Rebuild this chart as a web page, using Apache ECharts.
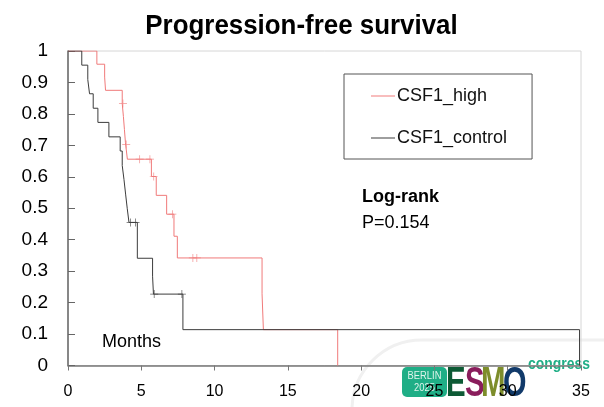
<!DOCTYPE html>
<html>
<head>
<meta charset="utf-8">
<script src="https://cdn.jsdelivr.net/npm/echarts@6/dist/echarts.min.js"></script>
<style>
html,body{margin:0;padding:0;background:#fff;}
#chart{width:604px;height:407px;}
</style>
</head>
<body>
<div id="chart"></div>
<script>
// Kaplan-Meier step points [months, survival]
var highCurve = [[0,1],[1.97,0.958],[2.5,0.917],[2.56,0.875],[3.70,0.833],[3.78,0.792],[3.85,0.750],[3.92,0.708],[4.05,0.656],[5.69,0.601],[6.02,0.541],[6.73,0.481],[7.23,0.411],[7.46,0.342],[13.24,0.228],[13.33,0.114],[18.4,0]];
var highCensor = [[3.75,0.833],[3.97,0.703],[4.89,0.656],[5.59,0.656],[5.85,0.601],[7.12,0.481],[8.52,0.342],[8.79,0.342]];
var controlCurve = [[0,1],[0.94,0.955],[1.35,0.909],[1.47,0.864],[1.72,0.818],[2.04,0.773],[2.79,0.727],[3.56,0.682],[3.70,0.636],[3.82,0.591],[3.93,0.545],[4.04,0.500],[4.16,0.455],[4.73,0.341],[5.77,0.284],[5.83,0.227],[7.84,0.114],[34.9,0]];
var controlCensor = [[4.27,0.455],[4.61,0.455],[5.88,0.227],[7.77,0.227]];
var seriesNames = ['CSF1_high','CSF1_control'];
var titleText = 'Progression-free survival';
var xLabel = 'Months';
var statTitle = 'Log-rank';
var statValue = 'P=0.154';

var RED = '#f07a7a', DARK = '#3c3c3c';
var plus = 'path://M-0.09,-1H0.09V-0.09H1V0.09H0.09V1H-0.09V0.09H-1V-0.09H-0.09Z';
var chart = echarts.init(document.getElementById('chart'));
var FONT = "'Liberation Sans', Arial, sans-serif";
chart.setOption({
  animation:false,
  backgroundColor:'#fff',
  grid:{left:68,right:23,top:51,bottom:41.5,show:true,borderColor:'#d6d6d6',borderWidth:1},
  legend:{
    orient:'vertical',left:344,top:74,padding:[13,25,12,27],itemGap:24,
    itemWidth:24,itemHeight:1,icon:'rect',borderColor:'#555',borderWidth:1,
    textStyle:{fontSize:18,fontFamily:FONT,color:'#111',padding:[0,0,0,-3]},
    data:seriesNames
  },
  xAxis:{type:'value',min:0,max:35,interval:5,
    axisLine:{lineStyle:{color:'#777',width:1.5}},
    axisTick:{length:5,lineStyle:{color:'#777'}},
    axisLabel:{fontSize:16,fontFamily:FONT,color:'#000',margin:18},
    splitLine:{show:false}},
  yAxis:{type:'value',min:0,max:1,interval:0.1,
    axisLine:{show:true,lineStyle:{color:'#666',width:1.5}},
    axisTick:{show:true,inside:true,length:7,lineStyle:{color:'#666'}},
    axisLabel:{fontSize:19,fontFamily:FONT,color:'#000',margin:20,
      formatter:function(v){return String(Math.round(v*10)/10);}},
    splitLine:{show:false}},
  series:[
    {name:seriesNames[0],type:'line',step:'end',data:highCurve,symbol:'none',z:3,
      color:RED,itemStyle:{color:RED},lineStyle:{color:RED,width:1}},
    {name:'high_censor',type:'scatter',data:highCensor,symbol:plus,symbolSize:8,z:3,
      itemStyle:{color:RED}},
    {name:seriesNames[1],type:'line',step:'end',data:controlCurve,symbol:'none',z:4,
      color:DARK,itemStyle:{color:DARK},lineStyle:{color:DARK,width:1}},
    {name:'control_censor',type:'scatter',data:controlCensor,symbol:plus,symbolSize:8,z:4,
      itemStyle:{color:DARK}}
  ],
  graphic:[
    {type:'text',x:301.5,y:26,scaleX:0.925,z:10,style:{text:titleText,fontSize:28,fontWeight:'bold',fontFamily:FONT,fill:'#000',align:'center',verticalAlign:'middle'}},
    {type:'text',x:102,y:342,z:10,style:{text:xLabel,fontSize:18,fontFamily:FONT,fill:'#000',align:'left',verticalAlign:'middle'}},
    {type:'text',x:362,y:197,z:10,style:{text:statTitle,fontSize:18,fontWeight:'bold',fontFamily:FONT,fill:'#000',align:'left',verticalAlign:'middle'}},
    {type:'text',x:362,y:223,z:10,style:{text:statValue,fontSize:18,fontFamily:FONT,fill:'#000',align:'left',verticalAlign:'middle'}},
    // slide decoration and congress logo
    {type:'rect',z:-10,shape:{x:352,y:340,width:320,height:140,r:70},style:{fill:'rgba(0,0,0,0)',stroke:'#f0f0f0',lineWidth:3}},
    {type:'rect',z:-9,shape:{x:402,y:367,width:45,height:30,r:5},style:{fill:'#1fae86'}},
    {type:'text',x:424.5,y:376,scaleX:0.85,z:-8,style:{text:'BERLIN',fontSize:11,fontFamily:FONT,fill:'#dff4ec',align:'center',verticalAlign:'middle'}},
    {type:'text',x:424.5,y:388,scaleX:0.85,z:-8,style:{text:'2025',fontSize:11,fontFamily:FONT,fill:'#dff4ec',align:'center',verticalAlign:'middle'}},
    {type:'text',x:446,y:384,scaleX:0.7,z:-8,style:{text:'E',fontSize:42,fontWeight:'bold',fontFamily:FONT,fill:'#0d5a35',align:'left',verticalAlign:'middle'}},
    {type:'text',x:465,y:384,scaleX:0.7,z:-8,style:{text:'S',fontSize:42,fontWeight:'bold',fontFamily:FONT,fill:'#8a1d5c',align:'left',verticalAlign:'middle'}},
    {type:'text',x:481,y:384,scaleX:0.7,z:-8,style:{text:'M',fontSize:42,fontWeight:'bold',fontFamily:FONT,fill:'#7d8d2b',align:'left',verticalAlign:'middle'}},
    {type:'text',x:503,y:384,scaleX:0.72,z:-8,style:{text:'O',fontSize:42,fontWeight:'bold',fontFamily:FONT,fill:'#113a6a',align:'left',verticalAlign:'middle'}},
    {type:'text',x:528,y:364,scaleX:0.82,z:-8,style:{text:'congress',fontSize:17,fontWeight:'bold',fontFamily:FONT,fill:'#1fae86',align:'left',verticalAlign:'middle'}}
  ]
});
</script>
</body>
</html>
